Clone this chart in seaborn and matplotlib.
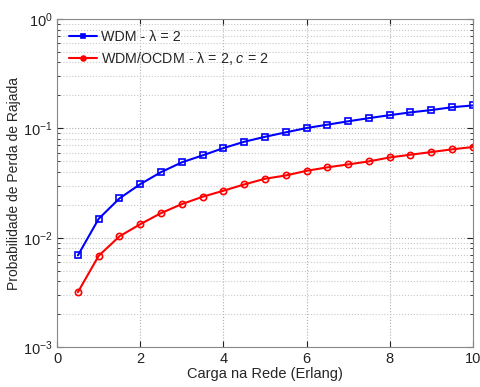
import matplotlib
matplotlib.use("Agg")
import matplotlib.pyplot as plt
import seaborn as sns
import pandas as pd
import numpy as np
from matplotlib.ticker import LogLocator, NullFormatter

carga = [0.5, 1, 1.5, 2, 2.5, 3, 3.5, 4, 4.5, 5, 5.5, 6, 6.5, 7, 7.5, 8, 8.5, 9, 9.5, 10]
wdm = [0.0069, 0.0149, 0.0229, 0.0309, 0.0398, 0.0489, 0.0566, 0.066, 0.0754, 0.0837,
       0.0919, 0.1007, 0.108, 0.116, 0.124, 0.132, 0.140, 0.147, 0.156, 0.162]
ocdm = [0.00318, 0.00684, 0.0103, 0.0133, 0.0168, 0.0203, 0.0237, 0.0269, 0.0307, 0.0346,
        0.0371, 0.0409, 0.044, 0.0468, 0.0499, 0.0542, 0.0574, 0.0607, 0.0643, 0.0675]
labels = ["WDM - λ = 2", "WDM/OCDM - λ = 2, $c$ = 2"]

sns.set_style("ticks")
plt.rcParams['font.family'] = ['Liberation Sans', 'DejaVu Sans']
plt.rcParams['mathtext.fontset'] = 'custom'
plt.rcParams['mathtext.rm'] = 'Liberation Sans'
plt.rcParams['mathtext.it'] = 'Liberation Sans:italic'

df = pd.DataFrame({
    "x": carga * 2,
    "y": wdm + ocdm,
    "serie": [labels[0]] * len(carga) + [labels[1]] * len(carga),
})

fig = plt.figure(figsize=(4.8, 3.87), dpi=100)
ax = fig.add_axes([0.119, 0.103, 0.866, 0.848])

sns.lineplot(data=df, x="x", y="y", hue="serie", style="serie",
             palette=["#0000ff", "#ff0000"], markers=["s", "o"], dashes=False,
             markersize=4.5, markeredgewidth=1.2,
             linewidth=1.5, ax=ax)
for line in ax.lines:
    line.set_markerfacecolor("none")
    line.set_markeredgecolor(line.get_color())

ax.set_yscale("log")
ax.set_xlim(0, 10)
ax.set_ylim(1e-3, 1)
ax.set_xticks([0, 2, 4, 6, 8, 10])
ax.yaxis.set_major_locator(LogLocator(base=10, numticks=10))
ax.yaxis.set_minor_locator(LogLocator(base=10, subs=np.arange(2, 10), numticks=10))
ax.yaxis.set_minor_formatter(NullFormatter())

ax.grid(True, which="major", linestyle=":", color="#b0b0b0", linewidth=0.8)
ax.grid(True, which="minor", axis="y", linestyle=":", color="#c8c8c8", linewidth=0.8)
ax.tick_params(direction="in", which="both", labelsize=10.5, top=True, right=True, colors="#222222")
ax.tick_params(which="major", length=4)
ax.tick_params(which="minor", length=2)
for s in ax.spines.values():
    s.set_color("#888888")
    s.set_linewidth(0.8)

ax.set_xlabel("Carga na Rede (Erlang)", fontsize=10.5, labelpad=1)
ax.set_ylabel("Probabilidade de Perda de Rajada", fontsize=10, labelpad=1)

handles, lbls = ax.get_legend_handles_labels()
for h in handles:
    h.set_markerfacecolor(h.get_color())
    h.set_markeredgecolor(h.get_color())
    h.set_markersize(3.5)
ax.legend(handles, lbls, loc="upper left", frameon=False, fontsize=10.3,
          handlelength=2.0, handletextpad=0.3, borderaxespad=0.4, labelspacing=0.4)

fig.savefig("out.png", dpi=100, facecolor="white")
